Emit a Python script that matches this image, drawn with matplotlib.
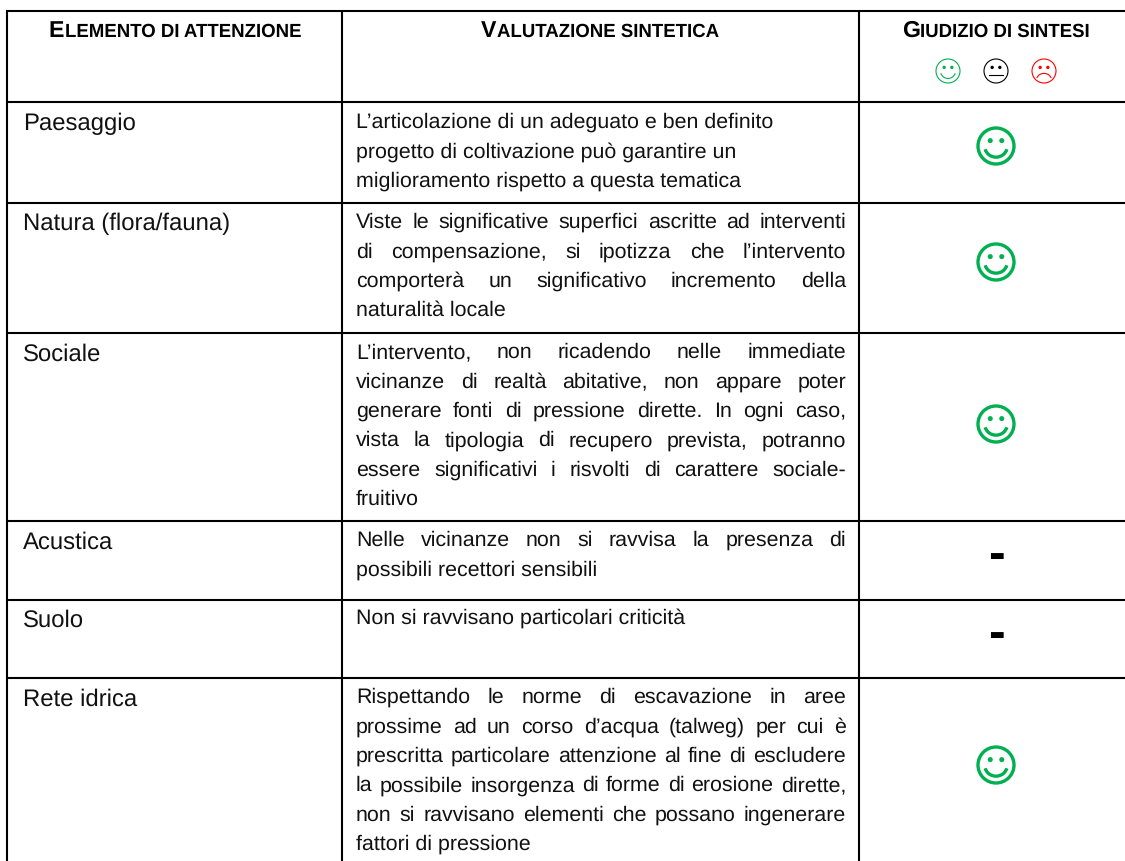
"""Tabella di sintesi dei giudizi ambientali."""

import numpy as np
import matplotlib.pyplot as plt
from matplotlib.patches import Arc, Circle

plt.rcParams["font.family"] = ["Liberation Sans", "DejaVu Sans"]
plt.rcParams["text.hinting"] = "no_hinting"

headers = ["ELEMENTO DI ATTENZIONE", "VALUTAZIONE SINTETICA", "GIUDIZIO DI SINTESI"]

elements = ["Paesaggio", "Natura (flora/fauna)", "Sociale", "Acustica", "Suolo", "Rete idrica"]

paesaggio = [
    "L’articolazione di un adeguato e ben definito",
    "progetto di coltivazione può garantire un",
    "miglioramento rispetto a questa tematica",
]
natura = [
    "Viste le significative superfici ascritte ad interventi",
    "di compensazione, si ipotizza che l’intervento",
    "comporterà un significativo incremento della",
    "naturalità locale",
]
sociale = [
    "L’intervento, non ricadendo nelle immediate",
    "vicinanze di realtà abitative, non appare poter",
    "generare fonti di pressione dirette. In ogni caso,",
    "vista la tipologia di recupero prevista, potranno",
    "essere significativi i risvolti di carattere sociale-",
    "fruitivo",
]
acustica = [
    "Nelle vicinanze non si ravvisa la presenza di",
    "possibili recettori sensibili",
]
suolo = ["Non si ravvisano particolari criticità"]
rete = [
    "Rispettando le norme di escavazione in aree",
    "prossime ad un corso d’acqua (talweg) per cui è",
    "prescritta particolare attenzione al fine di escludere",
    "la possibile insorgenza di forme di erosione dirette,",
    "non si ravvisano elementi che possano ingenerare",
    "fattori di pressione",
]
texts = [paesaggio, natura, sociale, acustica, suolo, rete]
justified = [False, True, True, True, False, True]
ratings = ["good", "good", "good", "none", "none", "good"]

# layout in pixel
W, H = 1125, 861
col_x = [6.5, 342, 859]
row_y = [10.5, 102, 203, 333, 521, 600, 678]
first_y = [128, 228, 358, 546, 624, 703]
rating_y = [146, 262, 424, 559, 638, 765]
pitch = 29.4
left_body = 356
right_body = 846
body_size = 15.4
GREEN = "#00B050"
RED = "#FF0000"

fig = plt.figure(figsize=(W / 100, H / 100), dpi=100)
ax = fig.add_axes([0, 0, 1, 1])
ax.set_xlim(0, W)
ax.set_ylim(H, 0)
ax.axis("off")
rend = fig.canvas.get_renderer()


def text_w(s, size, weight="normal"):
    t = ax.text(0, 0, s, fontsize=size, fontweight=weight)
    w = t.get_window_extent(rend).width
    t.remove()
    return w


def small_caps(s, cx, y, big=16.7, small=13.4):
    first, rest = s[0], s[1:]
    w1 = text_w(first, big, "bold") + 0.5
    w2 = text_w(rest, small, "bold")
    x0 = cx - (w1 + w2) / 2
    ax.text(x0, y, first, fontsize=big, fontweight="bold", va="baseline")
    ax.text(x0 + w1, y, rest, fontsize=small, fontweight="bold", va="baseline")


def justify_line(s, y, size):
    words = s.split(" ")
    widths = [text_w(w, size) for w in words]
    gap = (right_body - left_body - sum(widths)) / (len(words) - 1)
    x = left_body
    for w, wd in zip(words, widths):
        ax.text(x, y, w, fontsize=size, va="baseline", color="#111111")
        x += wd + gap


def smiley(cx, cy, r, color, lw, mood="good"):
    ax.add_patch(Circle((cx, cy), r, fill=False, edgecolor=color, linewidth=lw))
    eye = 0.14 * r
    for dx in (-0.32, 0.32):
        ax.add_patch(Circle((cx + dx * r, cy - 0.3 * r), eye, color=color, linewidth=0))
    if mood == "good":
        ax.add_patch(Arc((cx, cy + 0.02 * r), 1.25 * r, 1.2 * r, theta1=15, theta2=165, color=color, linewidth=lw))
    elif mood == "flat":
        ax.plot([cx - 0.55 * r, cx + 0.55 * r], [cy + 0.3 * r, cy + 0.3 * r], color=color, linewidth=lw)
    else:
        ax.add_patch(Arc((cx, cy + 0.75 * r), 1.25 * r, 1.1 * r, theta1=195, theta2=345, color=color, linewidth=lw))


# griglia
for y in row_y:
    ax.plot([col_x[0] - 1, W], [y, y], color="black", linewidth=1.5, solid_capstyle="butt")
for x in col_x:
    ax.plot([x, x], [row_y[0], H], color="black", linewidth=1.5, solid_capstyle="butt")

# intestazioni
for s, cx in zip(headers, [175, 600, 996]):
    small_caps(s, cx, 37)
smiley(948, 71, 12, GREEN, 0.8)
smiley(996, 71, 12, "black", 0.8, "flat")
smiley(1044, 71, 12, RED, 0.8, "bad")

# righe
for i in range(len(elements)):
    ax.text(23, first_y[i] + 2.5, elements[i], fontsize=17.2, va="baseline", color="#111111")
    lines = texts[i]
    for j, s in enumerate(lines):
        y = first_y[i] + j * pitch
        if justified[i] and j < len(lines) - 1:
            justify_line(s, y, body_size)
        else:
            ax.text(left_body, y, s, fontsize=body_size, va="baseline", color="#111111")
    if ratings[i] == "good":
        smiley(996, rating_y[i], 18, GREEN, 2.4)
    else:
        ax.text(996, rating_y[i] - 3, "-", fontsize=36, fontweight="bold", ha="center", va="center")

fig.savefig("out.png", dpi=100)
